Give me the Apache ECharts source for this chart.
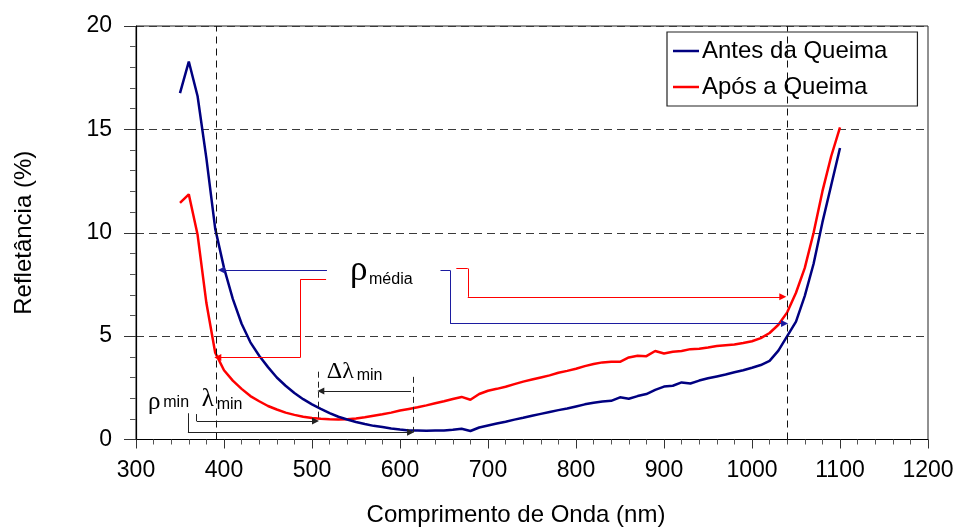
<!DOCTYPE html>
<html>
<head>
<meta charset="utf-8">
<script src="https://cdn.jsdelivr.net/npm/echarts@6/dist/echarts.min.js"></script>
<style>
  html, body { margin: 0; padding: 0; background: #fff; }
  #chart { width: 955px; height: 529px; }
</style>
</head>
<body>
<div id="chart"></div>
<script>
// Wavelength (nm)
const wavelengths = [
  350, 360, 370, 380, 390, 400, 410, 420, 430, 440,
  450, 460, 470, 480, 490, 500, 510, 520, 530, 540,
  550, 560, 570, 580, 590, 600, 610, 620, 630, 640,
  650, 660, 670, 680, 690, 700, 710, 720, 730, 740,
  750, 760, 770, 780, 790, 800, 810, 820, 830, 840,
  850, 860, 870, 880, 890, 900, 910, 920, 930, 940,
  950, 960, 970, 980, 990, 1000, 1010, 1020, 1030, 1040,
  1050, 1060, 1070, 1080, 1090, 1100
];

// Reflectance (%) before firing
const antesQueima = [
  16.75, 18.28, 16.6, 13.6, 10.2, 8.3, 6.8, 5.6, 4.7, 4.05,
  3.5, 3.0, 2.6, 2.25, 1.95, 1.7, 1.48, 1.28, 1.1, 0.97,
  0.85, 0.75, 0.66, 0.6, 0.53, 0.48, 0.44, 0.43, 0.42, 0.43,
  0.44, 0.47, 0.52, 0.41, 0.58, 0.68, 0.77, 0.86, 0.96, 1.05,
  1.15, 1.24, 1.33, 1.42, 1.5, 1.6, 1.7, 1.78, 1.84, 1.87,
  2.04, 1.97, 2.1, 2.2, 2.4, 2.56, 2.6, 2.76, 2.71, 2.85,
  2.96, 3.05, 3.14, 3.25, 3.35, 3.47, 3.6, 3.8, 4.3, 5.0,
  5.7, 6.95, 8.5, 10.5, 12.3, 14.1
];

// Reflectance (%) after firing
const aposQueima = [
  11.44, 11.86, 9.9, 6.6, 4.2, 3.35, 2.85, 2.45, 2.1, 1.85,
  1.62, 1.45, 1.3, 1.19, 1.1, 1.04, 1.0, 0.98, 0.97, 0.98,
  1.02, 1.08, 1.15, 1.22, 1.3, 1.4, 1.48, 1.56, 1.65, 1.75,
  1.85, 1.96, 2.06, 1.92, 2.2, 2.36, 2.45, 2.55, 2.68, 2.8,
  2.9, 3.0, 3.1, 3.23, 3.32, 3.42, 3.55, 3.65, 3.73, 3.76,
  3.76, 3.97, 4.05, 4.03, 4.28, 4.16, 4.24, 4.28, 4.37, 4.39,
  4.45, 4.52, 4.56, 4.6, 4.67, 4.75, 4.9, 5.15, 5.55, 6.15,
  7.1, 8.3, 10.0, 12.0, 13.7, 15.1
];

const seriesNames = ['Antes da Queima', 'Após a Queima'];
const seriesColors = ['#000080', '#ff0000'];
const xTicks = [300, 400, 500, 600, 700, 800, 900, 1000, 1100, 1200];
const yTicks = [0, 5, 10, 15, 20];

// Wavelengths bounding the averaging band (dashed verticals)
const bandLimits = [391, 1040];

// Annotation leader paths in data units (last point carries the arrow head)
const avgBlueLeft   = [[517, 8.2], [397, 8.2]];
const avgRedLeft    = [[516, 7.75], [487, 7.75], [487, 3.97], [393, 3.97]];
const avgBlueRight  = [[646, 8.18], [657, 8.18], [657, 5.61], [1037, 5.61]];
const avgRedRight   = [[664, 8.27], [677, 8.27], [677, 6.9], [1035, 6.9]];
const rhoMinPath    = [[359, 1.27], [359, 0.35], [612, 0.35]];
const lambdaMinPath = [[369, 1.23], [369, 0.89], [504, 0.89]];
const deltaGuides   = [[[507, 3.28], [507, 0.89]], [[614.5, 3.03], [614.5, 0.35]]];
const deltaArrow    = [[612.5, 2.34], [510, 2.34]];

const FONT = 'Liberation Sans, Arial, sans-serif';
const GREEK = 'Liberation Serif, Times New Roman, serif';

function toPairs(xs, ys) {
  return xs.map((x, i) => [x, ys[i]]);
}

// Split a polyline into markLine segments with an arrow at the final point
function pathSegments(path, color, arrow, dashed) {
  const segs = [];
  for (let i = 0; i < path.length - 1; i++) {
    const last = i === path.length - 2;
    segs.push([
      { coord: path[i], symbol: 'none' },
      {
        coord: path[i + 1],
        symbol: (arrow && last) ? 'triangle' : 'none',
        symbolSize: 7,
        lineStyle: { color: color, width: 1, type: dashed ? [6, 4] : 'solid' },
        itemStyle: { color: color }
      }
    ]);
  }
  return segs;
}

const annotationLines = [].concat(
  pathSegments(avgBlueLeft, '#1c1ca0', true),
  pathSegments(avgRedLeft, '#ff0000', true),
  pathSegments(avgBlueRight, '#1c1ca0', true),
  pathSegments(avgRedRight, '#ff0000', true),
  pathSegments(rhoMinPath, '#222', true),
  pathSegments(lambdaMinPath, '#222', true),
  pathSegments(deltaGuides[0], '#222', false, true),
  pathSegments(deltaGuides[1], '#222', false, true),
  pathSegments(deltaArrow, '#222', true)
);

const chart = echarts.init(document.getElementById('chart'), null, { renderer: 'canvas' });

const option = {
  animation: false,
  backgroundColor: '#fff',
  grid: {
    left: 136, right: 27, top: 26, bottom: 89.5,
    containLabel: false,
    outerBoundsMode: 'none',
    show: true, borderColor: '#222', borderWidth: 1, backgroundColor: 'transparent'
  },
  legend: {
    data: seriesNames.map((n, i) => ({ name: n, icon: 'rect', itemStyle: { color: seriesColors[i] } })),
    orient: 'vertical',
    left: 667, top: 32,
    padding: [7, 30, 7, 6],
    itemGap: 12,
    itemWidth: 26, itemHeight: 2.5,
    borderColor: '#222', borderWidth: 1.2,
    backgroundColor: 'transparent',
    textStyle: { fontFamily: FONT, fontSize: 24, color: '#000', padding: [0, 0, 0, -2] }
  },
  xAxis: {
    type: 'value',
    min: xTicks[0], max: xTicks[xTicks.length - 1], interval: 100,
    name: 'Comprimento de Onda (nm)',
    nameLocation: 'middle', nameGap: 64,
    nameTextStyle: { fontFamily: FONT, fontSize: 24, color: '#000', padding: [0, 32, 0, 0] },
    axisLine: { onZero: false, lineStyle: { color: '#000', width: 1.2 } },
    axisTick: { show: true, length: 9, lineStyle: { color: '#333' } },
    minorTick: { show: true, splitNumber: 5, length: 5, lineStyle: { color: '#555' } },
    axisLabel: { fontFamily: FONT, fontSize: 23, color: '#000', margin: 20, formatter: v => String(v) },
    splitLine: { show: false }
  },
  yAxis: {
    type: 'value',
    min: yTicks[0], max: yTicks[yTicks.length - 1], interval: 5,
    name: 'Refletância (%)',
    nameLocation: 'middle', nameGap: 100,
    nameTextStyle: { fontFamily: FONT, fontSize: 24, color: '#000' },
    axisLine: { onZero: false, lineStyle: { color: '#000', width: 1.2 } },
    axisTick: { show: true, length: 12, lineStyle: { color: '#333' } },
    minorTick: { show: true, splitNumber: 5, length: 6, lineStyle: { color: '#555' } },
    axisLabel: { fontFamily: FONT, fontSize: 23, color: '#000', margin: 24, formatter: v => String(v) },
    splitLine: { show: true, lineStyle: { color: '#3a3a3a', width: 1, type: [8, 5] } }
  },
  series: [
    {
      name: seriesNames[1],
      type: 'line',
      data: toPairs(wavelengths, aposQueima),
      symbol: 'none',
      smooth: false,
      z: 3,
      color: seriesColors[1],
      lineStyle: { color: seriesColors[1], width: 2.5 }
    },
    {
      name: seriesNames[0],
      type: 'line',
      data: toPairs(wavelengths, antesQueima),
      symbol: 'none',
      smooth: false,
      z: 4,
      color: seriesColors[0],
      lineStyle: { color: seriesColors[0], width: 2.5 }
    },
    {
      name: 'guides',
      type: 'line',
      data: [],
      z: 2,
      silent: true,
      markLine: {
        silent: true,
        animation: false,
        symbol: ['none', 'none'],
        label: { show: false },
        emphasis: { disabled: true },
        lineStyle: { color: '#111', width: 1, type: [7, 5] },
        data: bandLimits.map(v => ({ xAxis: v }))
      }
    },
    {
      name: 'leaders',
      type: 'line',
      data: [],
      z: 2,
      silent: true,
      markLine: {
        silent: true,
        animation: false,
        symbol: ['none', 'none'],
        label: { show: false },
        emphasis: { disabled: true },
        data: annotationLines
      }
    }
  ]
};

chart.setOption(option);

// Symbol labels anchored in data units
const P = (x, y) => chart.convertToPixel({ gridIndex: 0 }, [x, y]);
function txt(pos, text, font, size) {
  const p = P(pos[0], pos[1]);
  return {
    type: 'text', x: p[0], y: p[1], z: 10,
    style: {
      text: text, fill: '#000', font: size + 'px ' + font,
      align: 'left', verticalAlign: 'middle'
    }
  };
}
chart.setOption({
  graphic: [
    txt([543.2, 8.15], 'ρ', GREEK, 35),
    txt([564.8, 7.75], 'média', FONT, 16),
    txt([313.6, 1.8], 'ρ', GREEK, 25),
    txt([331, 1.8], 'min', FONT, 16),
    txt([374.7, 1.95], 'λ', GREEK, 25),
    txt([391.7, 1.68], 'min', FONT, 16),
    txt([516.7, 3.3], 'Δλ', GREEK, 24),
    txt([550.8, 3.1], 'min', FONT, 16)
  ]
});
</script>
</body>
</html>
